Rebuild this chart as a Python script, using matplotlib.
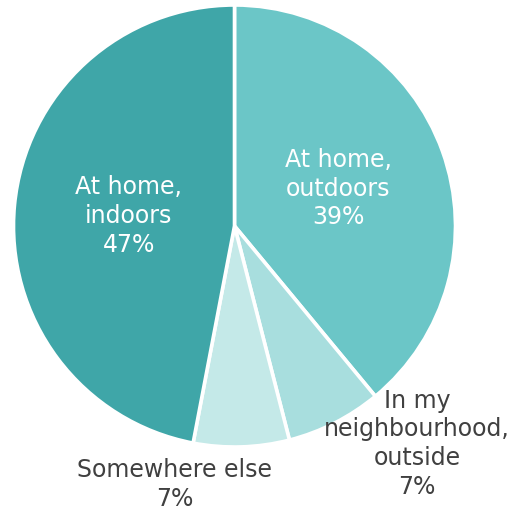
import matplotlib
matplotlib.use("Agg")
import matplotlib.pyplot as plt
import numpy as np

categories = ["At home,\noutdoors", "In my\nneighbourhood,\noutside", "Somewhere else", "At home,\nindoors"]
values = [39, 7, 7, 47]
colors = ["#6BC6C7", "#A8DEDE", "#C4E9E8", "#3FA6A8"]

W, H = 519, 511
fig = plt.figure(figsize=(W / 100, H / 100), dpi=100)
ax = fig.add_axes([0, 0, 1, 1])
R = 221.0
cx, cy = 234.5, 226.0

ax.pie(values, colors=colors, startangle=90, counterclock=False,
       radius=1.0, center=(0, 0), frame=True,
       wedgeprops=dict(edgecolor="white", linewidth=2.6))
ax.set_xlim(-cx / R, (W - cx) / R)
ax.set_ylim((cy - H) / R, cy / R)
ax.set_aspect("auto")
ax.axis("off")

fs = 17
ls = 1.25
dark = "#404040"
labels = [f"{c}\n{v}%" for c, v in zip(categories, values)]

# inside labels for the two large slices, placed along each slice's mid-angle
start = 90.0
mids = []
for v in values:
    span = v / sum(values) * 360
    mids.append(start - span / 2)
    start -= span

for i, r in [(0, 0.50), (3, 0.48)]:
    a = np.deg2rad(mids[i])
    ax.text(r * np.cos(a), r * np.sin(a), labels[i], ha="center", va="center",
            color="white", fontsize=fs, linespacing=ls)

# outside labels for the two small slices
ax.text(0.825, -0.985, labels[1], ha="center", va="center", color=dark,
        fontsize=fs, linespacing=ls)
ax.text(-0.27, -1.17, labels[2], ha="center", va="center", color=dark,
        fontsize=fs, linespacing=ls)

fig.savefig("out.png", dpi=100)
